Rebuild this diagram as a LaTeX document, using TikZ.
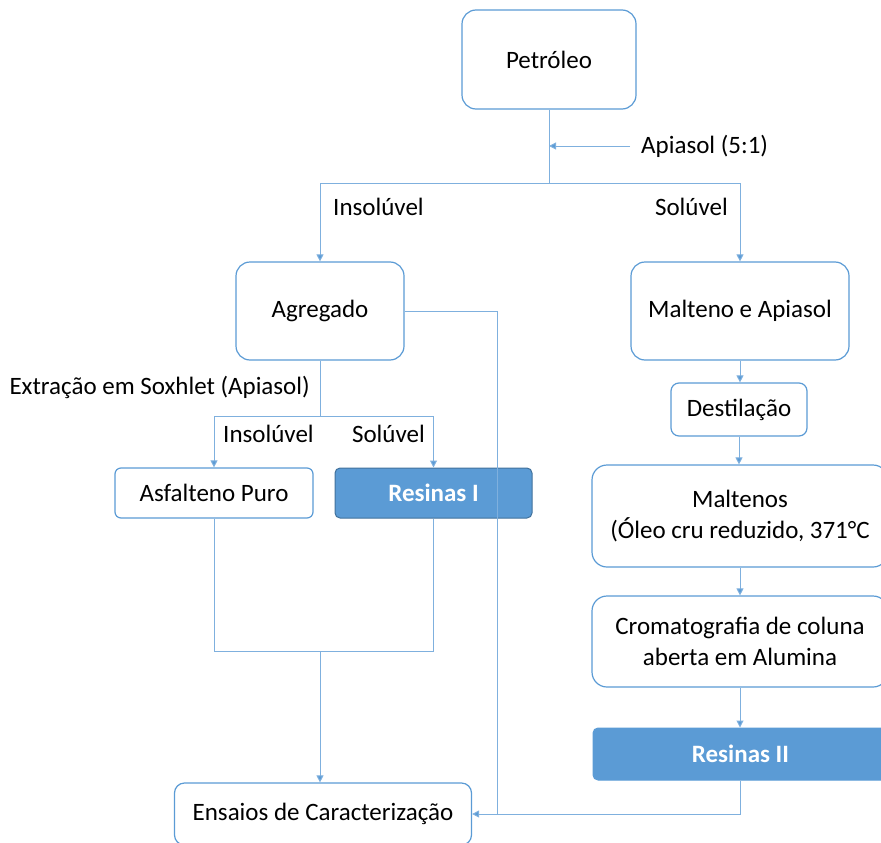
\documentclass[tikz,border=0pt]{standalone}
\usepackage{fontspec}
\setmainfont{Carlito}
\usetikzlibrary{arrows.meta}
\definecolor{edge}{HTML}{5B9BD5}
\definecolor{wirec}{HTML}{7FB0DE}
\definecolor{fillb}{HTML}{5B9BD5}
\definecolor{darkb}{HTML}{41719C}
\begin{document}
\begin{tikzpicture}[x=1pt,y=-1pt,
  txt/.style={font=\fontsize{25}{31}\selectfont},
  box/.style={draw=edge, line width=1.2pt, fill=white, rounded corners=#1,
    align=center, inner sep=0pt, txt},
  box/.default=12pt,
  hot/.style={draw=#1, fill=fillb, text=white, rounded corners=5pt,
    line width=1pt, inner sep=0pt, font=\fontsize{25}{31}\selectfont\bfseries},
  hot/.default=darkb,
  wire/.style={draw=wirec, line width=1pt},
  arr/.style={wire, -{Triangle[length=7pt,width=7pt,fill=edge]}},
  lab/.style={txt, inner sep=0pt}
]
\useasboundingbox (0,0) rectangle (881,843);
\clip (0,0) rectangle (881,843);

% boxes
\node[box=14pt, minimum width=174pt, minimum height=99pt] (pet) at (549,59.5) {Petróleo};
\node[box=14pt, minimum width=168pt, minimum height=98pt] (agr) at (320,311) {Agregado};
\node[box=14pt, minimum width=218pt, minimum height=98pt] (mal) at (740,311) {Malteno e Apiasol};
\node[box=6pt, minimum width=198pt, minimum height=50pt] (asf) at (214,493) {Asfalteno Puro};
\node[hot, minimum width=197pt, minimum height=50pt] (res1) at (433.5,493) {Resinas I};
\node[box=10pt, minimum width=297pt, minimum height=62pt] (ens) at (323,814) {Ensaios de Caracterização};
\node[box=8pt, minimum width=136pt, minimum height=53pt] (des) at (739,409.5) {Destilação};
\node[box=15pt, minimum width=296pt, minimum height=102pt] (mlt) at (740,516) {Maltenos\\(Óleo cru reduzido, 371°C};
\node[box=15pt, minimum width=296pt, minimum height=91pt] (crom) at (740,641.5) {Cromatografia de coluna\\aberta em Alumina};
\node[hot=edge, minimum width=295pt, minimum height=52pt] (res2) at (740.5,754) {Resinas II};

% first split with solvent addition
\coordinate (s1) at (549,183);
\coordinate (api) at (630,146);
\draw[wire] (pet.south) -- (s1);
\draw[arr] (api) -- (api -| pet.south);
\node[lab, anchor=west] (apil) at (641,146) {Apiasol (5:1)};
\draw[arr] (s1) -| (agr.north);
\draw[arr] (s1) -| (mal.north);
\node[lab, anchor=west] (ins1) at (333,207) {Insolúvel};
\node[lab, anchor=east] (sol1) at (728,207) {Solúvel};

% Soxhlet extraction
\coordinate (s2) at (320,416);
\draw[wire] (agr.south) -- (s2);
\draw[arr] (s2) -| (asf.north);
\draw[arr] (s2) -| (res1.north);
\node[lab, anchor=east] (sox) at (310,387) {Extração em Soxhlet (Apiasol)};
\node[lab, anchor=west] (ins2) at (223,434) {Insolúvel};
\node[lab, anchor=east] (sol2) at (425,434) {Solúvel};

% merge into characterization
\coordinate (s3) at (320,651);
\draw[wire] (asf.south) |- (s3);
\draw[wire] (res1.south) |- (s3);
\draw[arr] (s3) -- (s3 |- ens.north);

% right column
\draw[arr] (mal.south) -- (mal.south |- des.north);
\draw[arr] (des.south) -- (des.south |- mlt.north);
\draw[arr] (mlt.south) -- (mlt.south |- crom.north);
\draw[arr] (crom.south) -- (crom.south |- res2.north);

% returns to characterization
\coordinate (j) at (497,814);
\draw[wire] (agr.east) -| (j);
\draw[arr] (res2.south) |- (ens.east);
\end{tikzpicture}
\end{document}
